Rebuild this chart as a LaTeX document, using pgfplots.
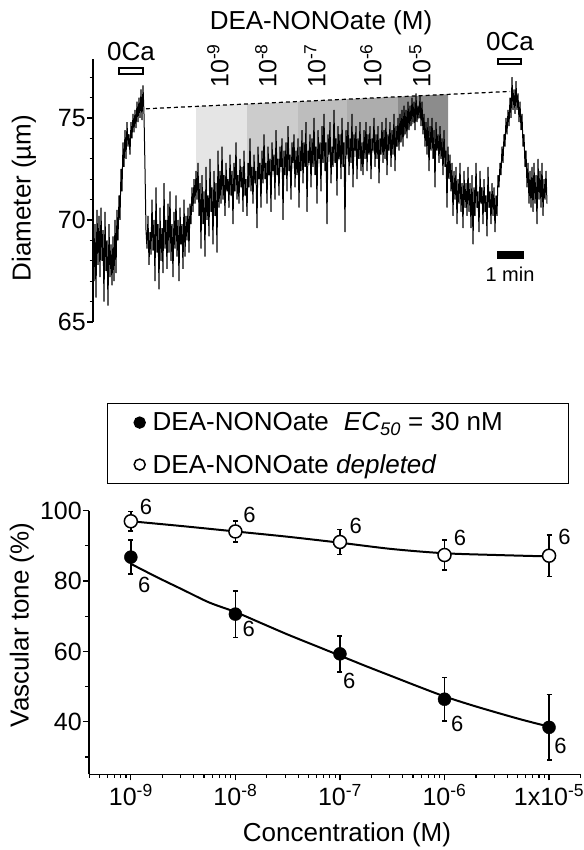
\documentclass[border=0pt]{standalone}
\usepackage{fontspec}
\setmainfont{Liberation Sans}
\usepackage{pgfplots}
\pgfplotsset{compat=1.18}
\definecolor{sA}{gray}{0.90}
\definecolor{sB}{gray}{0.80}
\definecolor{sC}{gray}{0.74}
\definecolor{sD}{gray}{0.68}
\definecolor{sE}{gray}{0.55}
\newcommand{\fA}{\fontsize{26bp}{30bp}\selectfont}
\newcommand{\fT}{\fontsize{25bp}{30bp}\selectfont}
\newcommand{\fS}{\fontsize{22bp}{26bp}\selectfont}
\newcommand{\fM}{\fontsize{20bp}{24bp}\selectfont}
\begin{document}
\begin{tikzpicture}
\useasboundingbox (0bp,0bp) rectangle (584bp,850bp);
% ---------------- top panel ----------------
\begin{axis}[
  at={(93bp,528bp)}, anchor=south west, scale only axis,
  width=491bp, height=263.2bp,
  xmin=93, xmax=584, ymin=65, ymax=77.9,
  axis y line=left, axis x line=none,
  axis line style={-, line width=1.2bp},
  ytick={65,70,75}, minor ytick={66,67,68,69,71,72,73,74,76,77},
  tick align=outside, major tick length=6bp, minor tick length=3.5bp,
  every tick/.style={black, line width=1.2bp},
  yticklabel style={font=\fT, inner xsep=1bp},
  /pgf/number format/assume math mode=true,
  clip=false,
]
\addplot[fill=sA, draw=none] coordinates {(196,71.3) (196,75.57) (247,75.69) (247,71.8)} -- cycle;
\addplot[fill=sB, draw=none] coordinates {(247,71.8) (247,75.69) (298,75.80) (298,72.6)} -- cycle;
\addplot[fill=sC, draw=none] coordinates {(298,72.6) (298,75.80) (347,75.92) (347,73.0)} -- cycle;
\addplot[fill=sD, draw=none] coordinates {(347,73.0) (347,75.92) (398,76.04) (398,73.6)} -- cycle;
\addplot[fill=sE, draw=none] coordinates {(398,73.6) (398,76.04) (448,76.16) (448,72.8) (438,73.6) (428,74.2) (420,75.0) (410,74.6)} -- cycle;
\addplot[black, line width=1.2bp, dash pattern=on 4bp off 3bp] coordinates {(146,75.45) (510,76.30)};
\addplot[black, line width=1.0bp] coordinates {
(93,69.5) (94,67.0) (95,69.8) (96,66.2) (97,70.5) (98,67.8) (99,70.2) (100,67.2) (101,70.6) (102,68.0)
(103,69.5) (104,66.0) (105,70.4) (106,67.5) (107,69.0) (108,65.8) (109,69.8) (110,67.2) (111,68.8) (112,66.8)
(113,69.2) (114,67.0) (115,70.0) (116,67.4)
(117,70.5) (118,69.0) (119,71.2) (120,70.0) (121,72.5) (122,71.4) (123,73.8)
(124,72.6) (125,74.4) (126,73.0) (127,74.8) (128,73.6) (129,74.2) (130,73.2) (131,74.8) (132,74.0) (133,75.2)
(134,74.3) (135,75.4) (136,74.5) (137,75.8) (138,74.8) (139,76.0) (140,75.0) (141,76.4) (142,74.9) (143,76.6) (144,75.2)
(145,72.5) (146,69.5) (147,68.6)
(148,70.2) (149,67.8) (150,69.4) (151,68.3) (152,71.0) (153,68.5) (154,70.0) (155,67.0) (156,71.6) (157,68.4)
(158,69.8) (159,66.6) (160,70.6) (161,68.0) (162,69.6) (163,67.4) (164,71.8) (165,68.6) (166,70.0) (167,67.6)
(168,70.8) (169,68.4) (170,71.4) (171,68.0) (172,69.8) (173,67.2) (174,70.4) (175,68.6) (176,71.2) (177,68.2)
(178,70.0) (179,67.0) (180,70.6) (181,68.8) (182,69.8) (183,67.6) (184,71.0) (185,68.2) (186,70.2) (187,69.0)
(188,70.6) (189,68.4)
(190,70.8) (191,69.8) (192,71.6) (193,70.4) (194,72.0) (195,70.8) (196,72.4) (197,71.0)
(198,72.8) (199,70.2) (200,71.8) (201,68.6) (202,72.2) (203,69.8) (204,71.4) (205,68.2) (206,72.6) (207,70.0)
(208,71.2) (209,69.2) (210,73.0) (211,70.4) (212,71.6) (213,68.8) (214,72.4) (215,70.2) (216,71.8) (217,68.4)
(218,73.4) (219,70.6)
(220,72.4) (221,70.8) (222,73.6) (223,71.0) (224,72.2) (225,70.2) (226,72.8) (227,71.4) (228,72.0) (229,70.6)
(230,73.2) (231,71.2) (232,72.4) (233,69.8) (234,72.8) (235,71.4) (236,73.8) (237,71.0) (238,72.2) (239,70.8)
(240,73.0) (241,71.6) (242,72.6) (243,70.4) (244,73.4) (245,71.2) (246,72.0) (247,70.2) (248,72.8) (249,71.6)
(250,74.0) (251,71.4) (252,72.6) (253,70.8) (254,73.2) (255,71.8) (256,72.4) (257,69.6) (258,73.6) (259,72.0)
(260,72.8) (261,70.6) (262,73.4) (263,71.8) (264,74.2) (265,72.0) (266,72.8) (267,70.8) (268,73.6) (269,72.2)
(270,73.0) (271,70.4) (272,73.8) (273,72.4) (274,73.2) (275,71.0) (276,74.4) (277,72.2) (278,73.0) (279,71.2)
(280,73.6) (281,72.6) (282,74.0) (283,70.0) (284,73.4) (285,72.2) (286,73.8) (287,71.4) (288,74.6) (289,72.4)
(290,73.2) (291,71.0) (292,73.8) (293,72.8) (294,74.2) (295,71.6) (296,73.4) (297,72.2) (298,74.0) (299,70.6)
(300,73.6) (301,72.4) (302,74.4) (303,71.8) (304,73.8) (305,72.6) (306,74.8) (307,70.4) (308,73.4) (309,72.8)
(310,74.2) (311,71.6) (312,74.0) (313,72.6) (314,75.0) (315,72.2) (316,73.6) (317,70.8) (318,74.4) (319,73.0)
(320,73.8) (321,71.4) (322,74.6) (323,72.8) (324,75.2) (325,72.4) (326,73.8) (327,69.8) (328,74.2) (329,73.2)
(330,74.8) (331,71.8) (332,73.6) (333,72.6) (334,75.4) (335,72.8) (336,74.0) (337,71.2) (338,74.6) (339,73.0)
(340,74.2) (341,72.0) (342,75.0) (343,72.6) (344,73.8) (345,69.4) (346,74.4) (347,73.2) (348,74.8) (349,72.2)
(350,74.0) (351,72.8) (352,75.2) (353,71.6) (354,74.2) (355,73.4) (356,74.6) (357,72.0) (358,74.0) (359,73.0)
(360,74.8) (361,72.4) (362,73.8)
(363,72.2) (364,74.4) (365,73.0) (366,74.8) (367,72.4) (368,74.2) (369,73.2) (370,74.6) (371,72.0) (372,74.0)
(373,73.4) (374,75.0) (375,72.6) (376,74.2) (377,73.0) (378,74.6) (379,71.8) (380,74.0) (381,73.2) (382,74.8)
(383,72.8) (384,74.4) (385,73.0) (386,75.0) (387,72.2) (388,74.2) (389,73.4) (390,74.8) (391,72.6) (392,74.4)
(393,73.2) (394,75.2) (395,72.4) (396,74.6) (397,73.6)
(398,75.0) (399,73.4) (400,75.2) (401,73.8) (402,75.4) (403,73.6) (404,75.6) (405,74.2) (406,75.4) (407,74.0)
(408,75.8) (409,74.4) (410,75.6) (411,74.6) (412,76.0) (413,74.8) (414,75.8) (415,74.4) (416,76.2) (417,74.8)
(418,75.6) (419,75.0) (420,76.1) (421,74.6) (422,75.8) (423,74.2)
(424,75.2) (425,73.6) (426,74.8) (427,73.2) (428,75.0) (429,72.4) (430,74.6) (431,73.4) (432,75.0) (433,73.0)
(434,74.4) (435,71.6) (436,74.8) (437,73.4) (438,74.2) (439,72.8) (440,74.6) (441,73.0) (442,74.0) (443,72.2)
(444,74.4) (445,72.6) (446,73.4) (447,70.6)
(448,73.6) (449,72.0) (450,73.2) (451,71.4) (452,72.8) (453,70.2) (454,72.4) (455,71.0) (456,72.6) (457,69.8)
(458,72.0) (459,70.8) (460,72.8) (461,70.4) (462,71.8) (463,69.6) (464,72.4) (465,70.6) (466,71.8) (467,70.2)
(468,72.6) (469,70.4) (470,71.8) (471,69.6) (472,72.2) (473,68.8) (474,71.6) (475,70.2) (476,72.8) (477,70.6)
(478,71.4) (479,69.4) (480,72.4) (481,70.8) (482,71.6) (483,69.8) (484,72.0) (485,70.4) (486,71.2) (487,69.2)
(488,72.6) (489,70.6) (490,71.4) (491,69.8) (492,71.8) (493,70.2) (494,71.6) (495,69.4) (496,71.2) (497,70.2)
(498,72.2) (499,71.6) (500,72.8) (501,72.2) (502,73.6) (503,72.8) (504,74.2) (505,73.6) (506,75.0) (507,74.2)
(508,75.4) (509,74.6) (510,76.0)
(511,75.0) (512,77.0) (513,75.4) (514,76.4) (515,75.2) (516,76.8) (517,75.4) (518,76.2) (519,74.8) (520,75.8)
(521,74.4) (522,75.2) (523,73.6) (524,74.2) (525,72.6) (526,73.4) (527,71.6) (528,72.8) (529,70.8) (530,72.4)
(531,70.6) (532,72.6) (533,70.4)
(534,72.8) (535,70.8) (536,72.2) (537,69.8) (538,73.0) (539,71.0) (540,72.4) (541,70.6) (542,72.8) (543,70.2)
(544,72.0) (545,71.0) (546,72.4) (547,70.8)
};
\end{axis}
% ---------------- bottom panel ----------------
\begin{axis}[
  at={(89bp,75.5bp)}, anchor=south west, scale only axis,
  width=492bp, height=263.8bp,
  xmode=log, log basis x=10, xmin=3.98e-10, xmax=2.02e-5, ymin=25, ymax=100,
  axis x line=bottom, axis y line=left,
  axis line style={-, line width=1.2bp},
  xtick={1e-9,1e-8,1e-7,1e-6,1e-5},
  xticklabels={10\textsuperscript{-9},10\textsuperscript{-8},10\textsuperscript{-7},10\textsuperscript{-6},1x10\textsuperscript{-5}},
  minor xtick={4e-10,5e-10,6e-10,7e-10,8e-10,9e-10,2e-9,3e-9,4e-9,5e-9,6e-9,7e-9,8e-9,9e-9,2e-8,3e-8,4e-8,5e-8,6e-8,7e-8,8e-8,9e-8,2e-7,3e-7,4e-7,5e-7,6e-7,7e-7,8e-7,9e-7,2e-6,3e-6,4e-6,5e-6,6e-6,7e-6,8e-6,9e-6,2e-5},
  ytick={40,60,80,100}, minor ytick={30,50,70,90},
  tick align=outside, major tick length=6bp, minor tick length=3.5bp,
  every tick/.style={black, line width=1.2bp},
  xticklabel style={font=\fT},
  yticklabel style={font=\fT, inner xsep=1bp},
  /pgf/number format/assume math mode=true,
  clip=false,
  legend style={at={(0.0366,1.408)}, anchor=north west, draw=black, line width=1.4bp,
    font=\fA, inner xsep=4bp, inner ysep=7bp, row sep=18bp, column sep=3bp},
  legend cell align=left,
  legend image code/.code={\path[draw=none] (0bp,0bp) -- (36bp,0bp); \draw[#1, mark size=5.5bp, only marks] plot coordinates {(28bp,0bp)};},
]
\addplot[black, line width=2bp, smooth, forget plot] coordinates {
(1e-9,84.9) (1.778e-9,81.1) (3.162e-9,77.5) (5.623e-9,73.9) (1e-8,71.2) (1.778e-8,68.0)
(3.162e-8,64.8) (5.623e-8,61.8) (1e-7,58.8) (1.778e-7,55.8) (3.162e-7,52.9) (5.623e-7,50.0)
(1e-6,47.2) (1.778e-6,44.8) (3.162e-6,42.6) (5.623e-6,40.5) (1e-5,38.6)};
\addplot[black, line width=2bp, smooth, forget plot] coordinates {
(1e-9,97.0) (3.162e-9,95.6) (1e-8,94.1) (3.162e-8,92.6) (1e-7,90.9) (3.162e-7,89.1)
(1e-6,87.9) (3.162e-6,87.4) (1e-5,87.0)};
\addplot[black, only marks, mark=*, mark size=6.5bp,
  error bars/.cd, y dir=both, y explicit,
  error bar style={line width=1.5bp},
  error mark options={rotate=90, mark size=2.5bp, line width=1.5bp}]
  table[row sep=\\, x=x, y=y, y error=e] {
  x y e\\ 1e-9 86.8 4.8\\ 1e-8 70.6 6.6\\ 1e-7 59.3 5.1\\ 1e-6 46.4 6.2\\ 1e-5 38.4 9.3\\};
\addlegendentry{\makebox[410bp][l]{DEA-NONOate\hspace{15bp}\textit{EC}\textsubscript{\textit{50}} = 30 nM}}
\addplot[black, only marks, mark=*, mark size=6.5bp, mark options={fill=white, line width=1.5bp},
  error bars/.cd, y dir=both, y explicit,
  error bar style={line width=1.5bp},
  error mark options={rotate=90, mark size=2.5bp, line width=1.5bp}]
  table[row sep=\\, x=x, y=y, y error=e] {
  x y e\\ 1e-9 97.0 2.75\\ 1e-8 94.1 3.0\\ 1e-7 91.1 3.55\\ 1e-6 87.4 4.2\\ 1e-5 87.2 5.85\\};
\addlegendentry{\makebox[410bp][l]{DEA-NONOate \textit{depleted}}}
\node[font=\fS] at (axis cs:1.346e-9,78.9) {6};
\node[font=\fS] at (axis cs:1.340e-8,66.3) {6};
\node[font=\fS] at (axis cs:1.230e-7,51.5) {6};
\node[font=\fS] at (axis cs:1.327e-6,39.5) {6};
\node[font=\fS] at (axis cs:1.285e-5,33.1) {6};
\node[font=\fS] at (axis cs:1.393e-9,101.1) {6};
\node[font=\fS] at (axis cs:1.361e-8,98.8) {6};
\node[font=\fS] at (axis cs:1.413e-7,95.6) {6};
\node[font=\fS] at (axis cs:1.406e-6,92.4) {6};
\node[font=\fS] at (axis cs:1.403e-5,92.5) {6};
\end{axis}
\begin{scope}[x=1bp,y=1bp]
\node[font=\fA] at (321,827) {DEA-NONOate (M)};
\node[font=\fA] at (131,798) {0Ca};
\draw[line width=1.2bp] (119,776) rectangle (143,782);
\node[font=\fA] at (510,808) {0Ca};
\draw[line width=1.2bp] (498,786) rectangle (521,791);
\foreach \xx/\ee in {218/9,266/8,315/7,371/6,420/5}
  \node[font=\fT, rotate=90, anchor=west, inner sep=0pt] at (\xx,762) {10\textsuperscript{-\ee}};
\fill (497,591) rectangle (524,599);
\node[font=\fM] at (510,576) {1 min};
\node[font=\fA, rotate=90] at (24,652) {Diameter (µm)};
\node[font=\fA, rotate=90] at (22,225) {Vascular tone (\%)};
\node[font=\fA, anchor=base] at (347,8.5) {Concentration (M)};
\end{scope}
\end{tikzpicture}
\end{document}
